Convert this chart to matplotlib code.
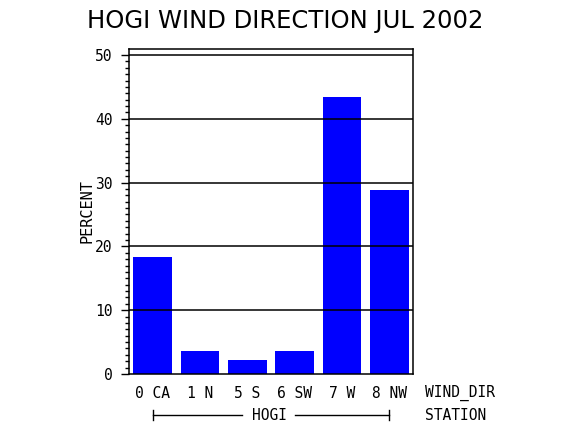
import numpy as np
import matplotlib
matplotlib.use("Agg")
import matplotlib.pyplot as plt
from matplotlib.ticker import MultipleLocator
import matplotlib.transforms as mtransforms

# data
directions = ["0 CA", "1 N", "5 S", "6 SW", "7 W", "8 NW"]
percent = [18.4, 3.6, 2.2, 3.6, 43.4, 28.8]
station = "HOGI"
title = "HOGI WIND DIRECTION JUL 2002"

plt.rcParams["font.family"] = ["DejaVu Sans Mono", "DejaVu Sans"]

fig = plt.figure(figsize=(5.7, 4.3), dpi=100)
ax = fig.add_axes([129 / 570, 1 - 374 / 430, 284 / 570, (374 - 49) / 430])

x = np.arange(len(directions))
ax.bar(x, percent, width=0.82, color="#0000ff", zorder=1)

ax.set_xlim(-0.5, len(directions) - 0.5)
ax.set_ylim(0, 50.94)

# grid lines drawn over the bars
for v in range(10, 51, 10):
    ax.axhline(v, color="black", lw=1.1, zorder=3)

ax.yaxis.set_major_locator(MultipleLocator(10))
ax.yaxis.set_minor_locator(MultipleLocator(1))
ax.tick_params(axis="y", which="major", direction="out", length=6, width=1,
               labelsize=10.5, pad=6)
ax.tick_params(axis="y", which="minor", direction="out", length=3, width=1)
ax.set_xticks(x)
ax.set_xticklabels(directions, fontsize=10.5)
ax.tick_params(axis="x", length=0, pad=9)
for s in ax.spines.values():
    s.set_linewidth(1.1)

ax.set_ylabel("PERCENT", fontsize=11, labelpad=0)

fig.text(0.5, 1 - 21 / 430, title, ha="center", va="center",
         fontsize=17.5, family="DejaVu Sans")

# second row: station label with bracket line
trans = mtransforms.blended_transform_factory(ax.transData, fig.transFigure)
yrow = 1 - 415 / 430
ax.plot([0, 1.88], [yrow, yrow], color="black", lw=1, transform=trans, clip_on=False)
ax.plot([3.01, 5], [yrow, yrow], color="black", lw=1, transform=trans, clip_on=False)
ax.plot([0, 0], [yrow - 0.011, yrow + 0.011], color="black", lw=1, transform=trans, clip_on=False)
ax.plot([5, 5], [yrow - 0.011, yrow + 0.011], color="black", lw=1, transform=trans, clip_on=False)
fig.text(2.46, yrow, station, transform=trans, ha="center", va="center", fontsize=10.5)

fig.text(425 / 570, 1 - 393 / 430, "WIND_DIR", ha="left", va="center", fontsize=10.5)
fig.text(425 / 570, yrow, "STATION", ha="left", va="center", fontsize=10.5)

fig.savefig("out.png", dpi=100)
